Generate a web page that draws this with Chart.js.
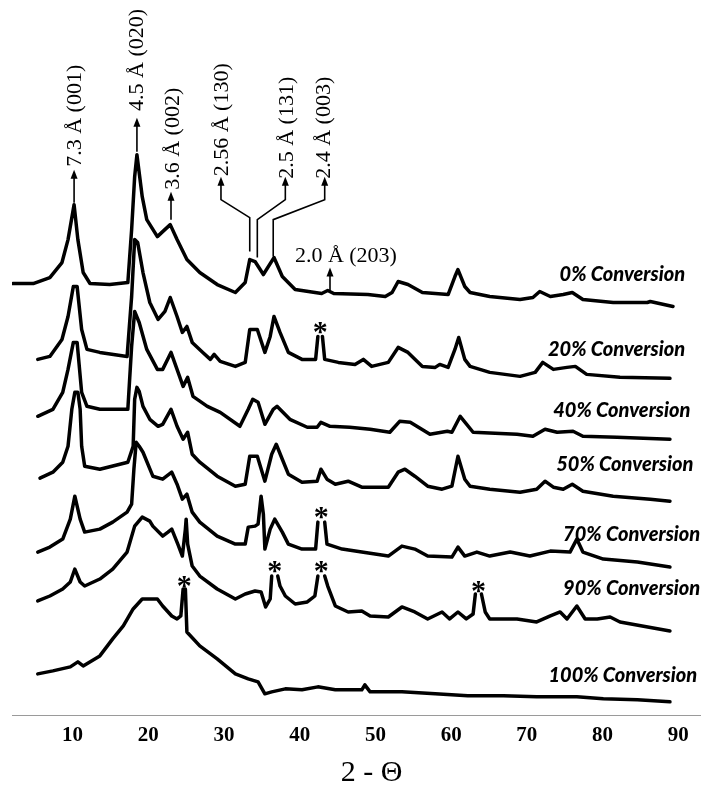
<!DOCTYPE html>
<html>
<head>
<meta charset="utf-8">
<script src="https://cdn.jsdelivr.net/npm/chart.js@4.4.1/dist/chart.umd.min.js"></script>
<style>
  html, body { margin: 0; padding: 0; background: #fff; }
</style>
</head>
<body>
<canvas id="chartcontainer" width="701" height="786"></canvas>
<script>
// XRD patterns, 2-theta vs stacked intensity (a.u.)
const conv0 = [[2.1,433],[4.8,433],[7.0,439],[8.6,454],[9.4,477],[10.2,512],[10.7,477],[11.4,444],[12.3,433],
  [14.9,432],[17.3,434],[17.8,487],[18.2,540],[18.5,562],[19.2,520],[19.8,497],[21.2,480],[21.9,485],[22.9,492],
  [23.8,477],[25.1,457],[26.8,444],[29.1,432],[31.5,424],[32.8,434],[33.4,457],[34.1,455],[35.2,442],[36.6,459],
  [37.7,440],[39.4,427],[42.9,423],[43.7,426],[44.5,423],[49.0,422],[51.3,420],[52.2,424],[53.0,435],[54.3,432],
  [56.2,424],[59.6,422],[60.5,440],[60.9,447],[61.8,430],[62.5,424],[65.1,420],[69.1,417],[70.8,419],[71.7,425],
  [73.1,420],[74.8,422],[76.0,424],[77.4,417],[81.4,414],[85.9,414],[86.3,415],[89.3,410]];

const conv20 = [[5.4,357],[7.0,360],[8.6,377],[9.4,400],[10.1,430],[10.6,430],[11.2,387],[11.9,367],[13.6,364],
  [17.2,360],[17.8,420],[18.2,477],[18.6,474],[19.3,444],[20.2,414],[21.3,397],[22.2,405],[22.9,419],[23.8,400],
  [24.5,384],[25.1,390],[25.8,374],[27.2,364],[28.2,357],[28.7,362],[29.5,355],[31.5,350],[32.8,354],[33.4,387],
  [34.4,387],[35.4,364],[36.1,380],[36.6,400],[37.4,384],[38.5,364],[40.3,357],[42.1,357],[42.4,380],[42.7,null],
  [43.0,380],[43.3,357],[45.1,354],[47.3,352],[48.4,357],[49.5,350],[51.7,354],[53.0,369],[54.3,364],[56.2,350],
  [57.9,349],[58.5,352],[59.6,349],[60.5,367],[61.0,379],[61.8,357],[62.5,350],[65.1,344],[69.1,340],[71.1,344],
  [72.1,354],[73.5,347],[75.3,349],[76.4,350],[77.9,342],[82.3,339],[88.9,338]];

const conv40 = [[5.4,300],[7.4,307],[8.7,324],[9.4,347],[10.1,374],[10.6,374],[11.2,324],[11.9,310],[13.6,307],
  [17.3,307],[17.8,370],[18.2,405],[18.8,394],[19.8,367],[21.2,347],[21.9,347],[23.0,364],[23.8,347],[24.6,330],
  [25.2,339],[25.9,320],[27.8,310],[29.5,304],[32.1,290],[33.2,307],[33.8,317],[34.5,314],[35.4,292],[36.5,307],
  [37.0,310],[38.7,297],[41.0,289],[42.3,289],[42.8,294],[44.0,290],[46.6,289],[49.3,287],[51.9,284],[53.2,295],
  [54.6,294],[57.2,282],[59.5,285],[60.1,284],[61.2,300],[62.9,284],[68.7,282],[70.8,280],[72.4,287],[74.0,284],
  [76.1,285],[77.4,280],[81.9,279],[88.9,277]];

const conv50 = [[5.7,238],[7.4,244],[8.7,254],[9.4,270],[9.9,307],[10.3,324],[10.7,324],[11.0,307],[11.2,270],
  [11.6,250],[13.6,247],[17.3,254],[18.0,270],[18.2,317],[18.5,329],[18.8,325],[19.3,310],[20.2,297],[21.3,290],
  [21.9,292],[23.0,307],[23.8,290],[24.6,277],[25.2,284],[25.8,262],[26.8,254],[29.1,240],[31.5,230],[32.8,232],
  [33.4,260],[34.4,260],[35.4,235],[36.3,262],[36.9,272],[37.7,257],[38.5,242],[40.3,234],[42.3,235],[42.8,247],
  [43.6,237],[44.7,232],[46.4,235],[48.2,229],[51.7,229],[53.0,244],[53.9,247],[55.2,240],[56.9,230],[58.8,227],
  [60.1,230],[60.9,260],[61.8,237],[62.5,230],[65.1,227],[69.1,224],[71.3,227],[72.4,235],[73.5,229],[74.8,227],
  [76.0,232],[77.4,225],[81.4,220],[86.3,217],[88.9,215]];

const conv70 = [[5.4,164],[7.0,169],[8.7,177],[9.7,197],[10.3,220],[11.0,197],[11.6,184],[13.6,187],[15.3,194],
  [17.2,204],[17.8,212],[18.1,247],[18.4,274],[18.8,270],[19.3,264],[20.6,240],[21.9,237],[23.1,244],[23.8,232],
  [24.5,217],[25.1,222],[25.8,204],[26.8,194],[29.1,180],[31.5,172],[32.8,172],[33.2,189],[34.1,190],[34.5,192],
  [34.9,220],[35.2,202],[35.4,167],[36.1,187],[36.7,197],[37.7,184],[38.5,172],[40.3,167],[42.1,167],[42.4,194],
  [42.85,null],[43.3,194],[43.6,172],[45.6,167],[48.2,164],[51.7,160],[53.5,170],[55.2,167],[56.9,160],[60.1,159],
  [60.9,169],[61.8,160],[63.4,164],[65.1,160],[67.8,164],[70.4,160],[73.1,165],[75.7,164],[76.6,177],[77.4,164],
  [80.1,157],[84.6,154],[88.9,149]];

const conv90 = [[5.4,115],[7.0,120],[8.7,127],[9.7,134],[10.3,147],[11.0,134],[11.6,130],[13.6,137],[15.3,147],
  [17.2,164],[18.2,190],[19.2,199],[20.2,195],[20.6,190],[21.9,180],[22.6,184],[23.1,187],[23.9,172],[24.5,160],
  [24.9,187],[25.0,197],[25.2,172],[25.8,150],[26.8,140],[29.1,127],[31.5,117],[32.8,122],[34.1,125],[34.9,124],
  [35.5,109],[36.1,117],[36.3,140],[36.7,null],[37.1,140],[37.4,130],[38.1,120],[39.4,112],[41.0,114],[42.0,120],
  [42.4,140],[42.85,null],[43.3,140],[43.7,130],[44.7,110],[46.4,104],[48.2,105],[49.3,100],[51.7,99],[53.5,109],
  [55.2,104],[56.9,97],[58.8,104],[59.8,97],[60.9,104],[62.0,97],[62.9,102],[63.2,122],[63.6,null],[64.0,122],
  [64.5,104],[65.1,97],[68.7,97],[71.3,94],[73.1,100],[74.4,104],[75.3,97],[76.6,110],[77.7,97],[79.3,97],
  [81.0,99],[82.3,94],[88.9,85]];

const conv100 = [[5.4,42],[7.4,45],[9.7,49],[10.7,54],[11.4,50],[13.6,60],[15.3,77],[16.7,90],[18.0,107],
  [19.2,117],[21.2,117],[21.9,110],[23.1,100],[23.8,97],[24.3,100],[24.6,127],[24.9,127],[25.1,84],[26.8,70],
  [29.1,57],[31.5,42],[33.2,37],[34.5,34],[35.4,22],[36.3,24],[38.1,27],[40.3,26],[42.4,29],[44.7,26],[48.2,26],
  [48.6,31],[49.3,24],[53.5,24],[57.9,22],[62.2,20],[66.9,20],[71.3,19],[76.6,19],[80.1,17],[84.6,16],[88.9,14]];

const seriesNames = ['0% Conversion', '20% Conversion', '40% Conversion', '50% Conversion',
  '70% Conversion', '90% Conversion', '100% Conversion'];
const seriesData = [conv0, conv20, conv40, conv50, conv70, conv90, conv100];
const xTicks = [10, 20, 30, 40, 50, 60, 70, 80, 90];

// label anchors in data units: [2-theta, intensity]
const seriesLabelPos = [[90.9,442],[90.9,367],[91.6,306],[92.0,252],[92.9,182],[92.9,127],[92.5,40]];
const peakLabels = [
  { text: '7.3 Å (001)',  at: [10.3, 601], arrow: [[10.2, 514], [10.2, 542]] },
  { text: '4.5 Å (020)',  at: [18.6, 657], arrow: [[18.5, 565], [18.5, 594]] },
  { text: '3.6 Å (002)',  at: [23.3, 578], arrow: [[23.0, 497], [23.0, 520]] },
  { text: '2.56 Å (130)', at: [29.7, 597], arrow: [[33.4, 465], [33.4, 499], [29.6, 517], [29.6, 535]] },
  { text: '2.5 Å (131)',  at: [38.3, 589], arrow: [[34.4, 459], [34.4, 497], [38.1, 517], [38.1, 535]] },
  { text: '2.4 Å (003)',  at: [43.3, 589], arrow: [[36.5, 460], [36.5, 497], [43.3, 517], [43.3, 535]] },
  { text: '2.0 Å (203)',  at: [46.1, 460], arrow: [[44.0, 424], [44.0, 444]], flat: true }
];
const starMarks = [[42.7, 389], [42.85, 204], [36.7, 150], [42.85, 150], [63.6, 130], [24.75, 135]];

const annotate = {
  id: 'annotate',
  afterDatasetsDraw(chart) {
    const ctx = chart.ctx;
    const xs = chart.scales.x, ys = chart.scales.y;
    const px = v => xs.getPixelForValue(v), py = v => ys.getPixelForValue(v);
    ctx.save();
    ctx.fillStyle = '#000';
    ctx.strokeStyle = '#000';

    // peak assignments
    ctx.lineWidth = 1.6;
    peakLabels.forEach(p => {
      ctx.beginPath();
      p.arrow.forEach((pt, i) => {
        if (i === 0) ctx.moveTo(px(pt[0]), py(pt[1]));
        else ctx.lineTo(px(pt[0]), py(pt[1]));
      });
      ctx.stroke();
      const head = p.arrow[p.arrow.length - 1];
      const hx = px(head[0]), hy = py(head[1]);
      ctx.beginPath();
      ctx.moveTo(hx, hy - 5);
      ctx.lineTo(hx - 3.5, hy + 4);
      ctx.lineTo(hx + 3.5, hy + 4);
      ctx.closePath();
      ctx.fill();

      ctx.font = '22px "Liberation Serif", "Times New Roman", serif';
      ctx.textAlign = 'center';
      ctx.textBaseline = 'middle';
      if (p.flat) {
        ctx.fillText(p.text, px(p.at[0]), py(p.at[1]));
      } else {
        ctx.save();
        ctx.translate(px(p.at[0]), py(p.at[1]));
        ctx.rotate(-Math.PI / 2);
        ctx.fillText(p.text, 0, 0);
        ctx.restore();
      }
    });

    // impurity marks
    ctx.font = 'bold 30px "Liberation Serif", serif';
    ctx.textAlign = 'center';
    ctx.textBaseline = 'alphabetic';
    starMarks.forEach(s => ctx.fillText('*', px(s[0]), py(s[1]) + 14));

    // series names
    ctx.font = 'italic 900 20px Lato, "DejaVu Sans", sans-serif';
    ctx.textAlign = 'right';
    ctx.textBaseline = 'middle';
    seriesLabelPos.forEach((p, i) => ctx.fillText(seriesNames[i], px(p[0]), py(p[1])));

    // axis title
    ctx.font = '30px "Liberation Serif", "Times New Roman", serif';
    ctx.textAlign = 'center';
    ctx.textBaseline = 'alphabetic';
    ctx.fillText('2 - Θ', px(49.5), 781);
    ctx.restore();
  }
};

const options = {
  type: 'line',
  data: {
    datasets: seriesData.map((s, i) => ({
      label: seriesNames[i],
      data: s.map(p => ({ x: p[0], y: p[1] })),
      borderColor: '#000',
      borderWidth: 3.5,
      pointRadius: 0,
      tension: 0,
      fill: false,
      spanGaps: false,
      borderJoinStyle: 'round',
      borderCapStyle: 'round'
    }))
  },
  options: {
    responsive: false,
    animation: false,
    layout: {
      padding: { left: 12, right: 0, top: 0, bottom: 31 }
    },
    plugins: {
      legend: { display: false },
      tooltip: { enabled: false }
    },
    scales: {
      x: {
        type: 'linear',
        min: 2,
        max: 93,
        afterBuildTicks: axis => { axis.ticks = xTicks.map(v => ({ value: v })); },
        grid: { display: false, drawTicks: false },
        border: { display: true, color: '#9a9a9a', width: 1, dash: [1, 2] },
        ticks: {
          color: '#000',
          padding: 7,
          font: { family: '"Liberation Serif", "Times New Roman", serif', size: 21, weight: 'bold' }
        }
      },
      y: {
        display: false,
        min: 0,
        max: 717
      }
    }
  },
  plugins: [annotate]
};

const ctx = document.getElementById('chartcontainer').getContext('2d');
const chart = new Chart(ctx, options);
</script>
</body>
</html>
